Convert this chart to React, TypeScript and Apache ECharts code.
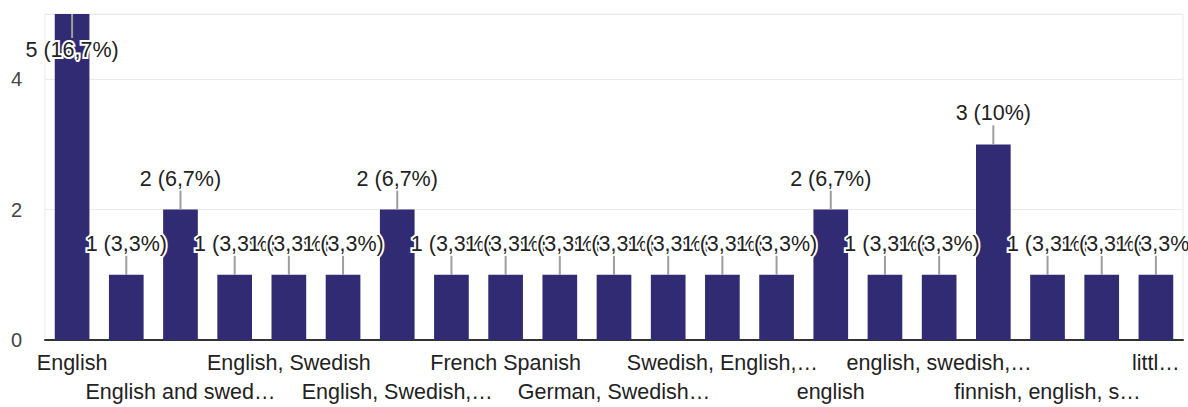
import React, { useEffect, useRef } from "react";
import * as echarts from "echarts";

// Category labels as displayed (Google-Forms-style truncation kept); odd ones are not shown on the axis
const categories: string[] = [
  "English",
  "answer 2",
  "English and swed…",
  "answer 4",
  "English, Swedish",
  "answer 6",
  "English, Swedish,…",
  "answer 8",
  "French Spanish",
  "answer 10",
  "German, Swedish…",
  "answer 12",
  "Swedish, English,…",
  "answer 14",
  "english",
  "answer 16",
  "english, swedish,…",
  "answer 18",
  "finnish, english, s…",
  "answer 20",
  "littl…",
];

const counts: number[] = [5, 1, 2, 1, 1, 1, 2, 1, 1, 1, 1, 1, 1, 1, 2, 1, 1, 3, 1, 1, 1];

const yTicks: number[] = [0, 2, 4];

const FONT = '"Liberation Sans", Arial, sans-serif';
const BAR = "#312b74";

export default function App() {
  const ref = useRef<HTMLDivElement>(null);

  useEffect(() => {
    if (!ref.current) return;
    const chart = echarts.init(ref.current, undefined, { renderer: "svg" });
    const total = counts.reduce((a, b) => a + b, 0);
    const yMax = Math.max(...counts);
    const pct = (v: number) => {
      const p = Math.round((v / total) * 1000) / 10;
      return String(p).replace(".", ",") + "%";
    };

    const barData = counts.map((v) =>
      v === yMax
        ? { value: v, label: { position: "insideTop", distance: 25 } }
        : { value: v }
    );

    const xLabelBase = {
      margin: 12,
      color: "#222",
      fontFamily: FONT,
      fontSize: 21.5,
      lineHeight: 22,
      hideOverlap: false,
    };

    chart.setOption({
      animation: false,
      grid: {
        left: 45,
        right: 5,
        top: 14,
        bottom: 67,
        show: true,
        borderColor: "#ebebeb",
        borderWidth: 1,
        backgroundColor: "#fff",
      },
      xAxis: [
        {
          type: "category",
          data: categories,
          position: "bottom",
          axisLine: { show: true, lineStyle: { color: "#333", width: 2 } },
          axisTick: { show: false },
          splitLine: { show: false },
          axisLabel: { ...xLabelBase, interval: (idx: number) => idx % 4 === 0 },
        },
        {
          type: "category",
          data: categories,
          position: "bottom",
          offset: 29,
          axisLine: { show: false },
          axisTick: { show: false },
          splitLine: { show: false },
          axisLabel: { ...xLabelBase, interval: (idx: number) => idx % 4 === 2 },
        },
      ],
      yAxis: {
        type: "value",
        min: 0,
        max: yMax,
        interval: 2,
        axisLine: { show: false },
        axisTick: { show: false },
        splitLine: { show: true, lineStyle: { color: "#ebebeb", width: 1 } },
        axisLabel: {
          margin: 23,
          color: "#444",
          fontFamily: FONT,
          fontSize: 20,
          showMaxLabel: false,
          formatter: (v: number) => (yTicks.includes(v) ? String(v) : ""),
        },
      },
      series: [
        {
          type: "bar",
          xAxisIndex: 0,
          data: barData,
          barWidth: "64%",
          itemStyle: { color: BAR },
          z: 2,
          label: {
            show: true,
            position: "top",
            distance: 20,
            color: "#222",
            fontFamily: FONT,
            fontSize: 21.5,
            lineHeight: 22,
            textBorderColor: "#fff",
            textBorderWidth: 4,
            formatter: (p: any) => `${p.value} (${pct(p.value)})`,
          },
          labelLayout: { hideOverlap: false },
        },
        {
          type: "custom",
          xAxisIndex: 0,
          data: counts.map((v, i) => [i, v]),
          encode: { x: 0, y: 1 },
          z: 3,
          silent: true,
          renderItem: (params: any, api: any) => {
            const i = api.value(0);
            const v = api.value(1);
            const pt = api.coord([i, v]);
            const y2 = v === yMax ? pt[1] + 24 : pt[1] - 19;
            return {
              type: "line",
              shape: { x1: pt[0], y1: pt[1], x2: pt[0], y2 },
              style: { stroke: "#9e9e9e", lineWidth: 2 },
            };
          },
        },
      ],
    });

    return () => chart.dispose();
  }, []);

  return (
    <div
      ref={ref}
      style={{ position: "absolute", left: 0, top: 0, width: 1188, height: 407, background: "#fff" }}
    />
  );
}
